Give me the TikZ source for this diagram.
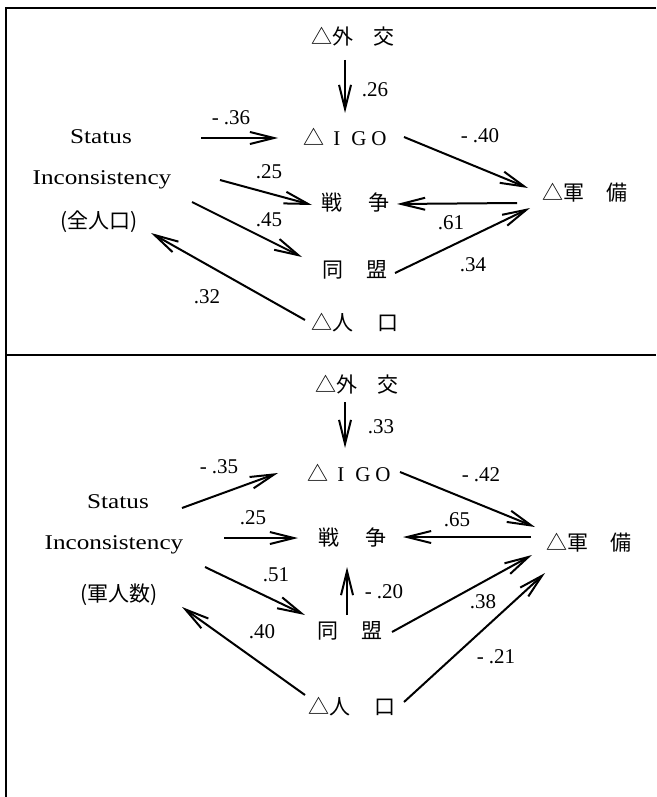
\documentclass[tikz,border=0pt]{standalone}
\usepackage{fontspec}
\setmainfont{Liberation Serif}
\newfontfamily\jp{Noto Sans CJK JP}
\newfontfamily\widefont[FakeStretch=1.2]{Liberation Serif}
\usetikzlibrary{arrows.meta,calc}
\begin{document}
\begin{tikzpicture}[x=1pt,y=-1pt,
  every node/.style={inner sep=0pt},
  jpn/.style={font=\fontsize{21}{24}\selectfont\jp},
  lat/.style={font=\fontsize{21}{24}\selectfont\widefont},
  num/.style={font=\fontsize{21}{24}\selectfont},
  arr/.style={line width=2pt, -{Straight Barb[length=24pt,width=12pt,line width=2pt]}},
  frame/.style={line width=2.4pt}]
\useasboundingbox (0,0) rectangle (656,797);
% frame
\draw[frame] (656,8) -- (6,8) -- (6,797);
\draw[frame] (6,355) -- (656,355);

% ---------- top panel ----------
\node[jpn] (gaiko1) at (353,37) {△外\hspace{20pt}交};
\node[jpn] (igo1) at (345,137) {△\hspace{9pt}{\rmfamily\fontsize{21}{24}\selectfont I\hspace{11pt}G\hspace{5pt}O}};
\node[lat] (stat1) at (101,137) {Status};
\node[lat] (inc1) at (102,180) {Inconsistency};
\node[jpn] (pop1) at (99,222) {(全人口)};
\node[jpn] (senso1) at (355,203) {戦\hspace{26pt}争};
\node[jpn] (doumei1) at (355,270) {同\hspace{24pt}盟};
\node[jpn] (jinko1) at (355,323) {△人\hspace{24pt}口};
\node[jpn] (gunbi1) at (585,193) {△軍\hspace{22pt}備};

\draw[arr] ($(gaiko1)+(-8,23)$) -- ($(igo1)+(0,-24)$);
\draw[arr] ($(stat1)+(100,1)$) -- ($(igo1)+(-67,1)$);
\draw[arr] ($(inc1)+(118,0)$) -- ($(senso1)+(-43,2)$);
\draw[arr] ($(inc1)+(90,22)$) -- ($(doumei1)+(-53,-13)$);
\draw[arr] ($(igo1)+(59,0)$) -- ($(gunbi1)+(-57,-5)$);
\draw[arr] ($(gunbi1)+(-68,10)$) -- ($(senso1)+(42,1)$);
\draw[arr] ($(doumei1)+(40,3)$) -- ($(gunbi1)+(-55,15)$);
\draw[arr] ($(jinko1)+(-50,-3)$) -- ($(pop1)+(52,11)$);

\node[num] (l1a) at (375,90) {.26};
\node[num] (l1b) at (231,118) {-\hspace{5pt}.36};
\node[num] (l1c) at (269,172) {.25};
\node[num] (l1d) at (269,220) {.45};
\node[num] (l1e) at (480,136) {-\hspace{5pt}.40};
\node[num] (l1f) at (451,223) {.61};
\node[num] (l1g) at (473,265) {.34};
\node[num] (l1h) at (207,297) {.32};

% ---------- bottom panel ----------
\node[jpn] (gaiko2) at (357,385) {△外\hspace{20pt}交};
\node[jpn] (igo2) at (349,473) {△\hspace{9pt}{\rmfamily\fontsize{21}{24}\selectfont I\hspace{11pt}G\hspace{5pt}O}};
\node[lat] (stat2) at (118,502) {Status};
\node[lat] (inc2) at (114,545) {Inconsistency};
\node[jpn] (pop2) at (119,595) {(軍人数)};
\node[jpn] (senso2) at (352,538) {戦\hspace{26pt}争};
\node[jpn] (doumei2) at (350,631) {同\hspace{24pt}盟};
\node[jpn] (jinko2) at (352,707) {△人\hspace{24pt}口};
\node[jpn] (gunbi2) at (589,543) {△軍\hspace{22pt}備};

\draw[arr] ($(gaiko2)+(-12,17)$) -- ($(igo2)+(-4,-25)$);
\draw[arr] ($(stat2)+(64,6)$) -- ($(igo2)+(-71,0)$);
\draw[arr] ($(inc2)+(110,-7)$) -- ($(senso2)+(-54,0)$);
\draw[arr] ($(inc2)+(91,22)$) -- ($(doumei2)+(-45,-16)$);
\draw[arr] ($(igo2)+(51,-1)$) -- ($(gunbi2)+(-54,-16)$);
\draw[arr] ($(gunbi2)+(-58,-6)$) -- ($(senso2)+(51,-1)$);
\draw[arr] ($(doumei2)+(-3,-16)$) -- ($(senso2)+(-5,29)$);
\draw[arr] ($(doumei2)+(42,1)$) -- ($(gunbi2)+(-57,12)$);
\draw[arr] ($(jinko2)+(52,-5)$) -- ($(gunbi2)+(-44,30)$);
\draw[arr] ($(jinko2)+(-47,-12)$) -- ($(pop2)+(63,12)$);

\node[num] (l2a) at (381,427) {.33};
\node[num] (l2b) at (219,467) {-\hspace{5pt}.35};
\node[num] (l2c) at (481,475) {-\hspace{5pt}.42};
\node[num] (l2d) at (253,518) {.25};
\node[num] (l2e) at (457,520) {.65};
\node[num] (l2f) at (276,575) {.51};
\node[num] (l2g) at (384,592) {-\hspace{5pt}.20};
\node[num] (l2h) at (483,602) {.38};
\node[num] (l2i) at (262,632) {.40};
\node[num] (l2j) at (496,657) {-\hspace{5pt}.21};
\end{tikzpicture}
\end{document}
